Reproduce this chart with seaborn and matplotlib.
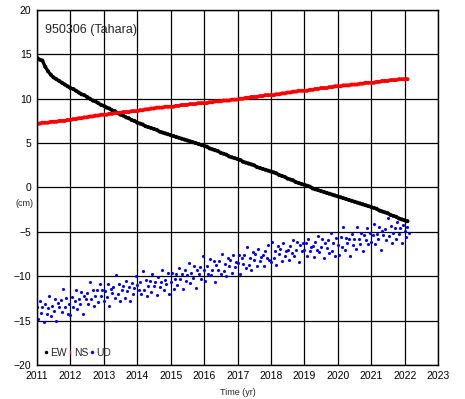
import matplotlib
matplotlib.use("Agg")
import matplotlib.pyplot as plt
import matplotlib.dates as mdates
from matplotlib.lines import Line2D
import numpy as np
import pandas as pd
import seaborn as sns

# Station 950306 (Tahara) daily coordinates (cm)
station = "950306 (Tahara)"

# EW / NS sampled monthly from Jan 2011 to Feb 2022
ew_cm = [
    14.6, 14.4, 14.3, 13.6, 13.1, 12.7, 12.4, 12.2, 12.0, 11.8, 11.6, 11.4,
    11.2, 11.1, 10.9, 10.7, 10.5, 10.4, 10.2, 10.0, 9.8, 9.7, 9.5, 9.3,
    9.2, 9.0, 8.9, 8.7, 8.6, 8.4, 8.2, 8.1, 7.9, 7.8, 7.6, 7.5,
    7.3, 7.2, 7.1, 6.9, 6.8, 6.7, 6.6, 6.5, 6.3, 6.2, 6.1, 6.0,
    5.9, 5.8, 5.7, 5.6, 5.5, 5.4, 5.3, 5.2, 5.1, 5.0, 4.9, 4.8,
    4.7, 4.6, 4.4, 4.3, 4.2, 4.1, 3.9, 3.8, 3.7, 3.5, 3.4, 3.3,
    3.2, 3.1, 2.9, 2.8, 2.7, 2.6, 2.5, 2.3, 2.2, 2.1, 2.0, 1.9,
    1.8, 1.7, 1.6, 1.4, 1.3, 1.2, 1.0, 0.9, 0.8, 0.6, 0.5, 0.4,
    0.3, 0.2, 0.1, -0.1, -0.2, -0.3, -0.4, -0.5, -0.6, -0.7, -0.8, -0.9,
    -1.0, -1.1, -1.2, -1.3, -1.4, -1.5, -1.6, -1.7, -1.8, -1.9, -2.0, -2.1,
    -2.2, -2.3, -2.4, -2.6, -2.7, -2.8, -2.9, -3.1, -3.2, -3.3, -3.5, -3.6,
    -3.7, -3.8,
]
ns_cm = [
    7.2, 7.2, 7.3, 7.3, 7.3, 7.4, 7.4, 7.4, 7.5, 7.5, 7.5, 7.6,
    7.6, 7.7, 7.7, 7.8, 7.8, 7.9, 7.9, 8.0, 8.0, 8.1, 8.1, 8.2,
    8.2, 8.2, 8.3, 8.3, 8.4, 8.4, 8.4, 8.5, 8.5, 8.5, 8.6, 8.6,
    8.6, 8.7, 8.7, 8.8, 8.8, 8.9, 8.9, 9.0, 9.0, 9.0, 9.1, 9.1,
    9.1, 9.1, 9.2, 9.2, 9.3, 9.3, 9.3, 9.4, 9.4, 9.4, 9.5, 9.5,
    9.5, 9.5, 9.6, 9.6, 9.7, 9.7, 9.7, 9.8, 9.8, 9.8, 9.9, 9.9,
    9.9, 10.0, 10.0, 10.1, 10.1, 10.2, 10.2, 10.2, 10.3, 10.3, 10.4, 10.4,
    10.4, 10.4, 10.5, 10.5, 10.6, 10.6, 10.7, 10.7, 10.8, 10.8, 10.9, 10.9,
    10.9, 10.9, 11.0, 11.0, 11.1, 11.1, 11.2, 11.2, 11.2, 11.3, 11.3, 11.4,
    11.4, 11.4, 11.5, 11.5, 11.5, 11.6, 11.6, 11.6, 11.7, 11.7, 11.8, 11.8,
    11.8, 11.8, 11.9, 11.9, 12.0, 12.0, 12.0, 12.1, 12.1, 12.1, 12.2, 12.2,
    12.2, 12.2,
]

# UD is noisier, sampled twice a month
ud_cm = [
    -13.5, -14.8, -12.8, -14.1, -13.5, -15.1, -13.1, -14.2, -13.6, -12.2, -14.5, -13.4,
    -13.9, -12.6, -15.0, -13.0, -13.5, -12.7, -14.0, -11.4, -13.5, -12.4, -14.2, -13.1,
    -14.4, -12.3, -13.5, -12.8, -11.5, -13.7, -12.6, -13.1, -11.8, -14.2, -12.2, -12.6,
    -11.9, -13.1, -10.6, -12.6, -11.5, -13.3, -12.2, -11.6, -12.9, -10.9, -12.2, -11.6,
    -12.8, -11.7, -12.3, -10.9, -13.4, -11.4, -11.9, -11.2, -12.4, -9.9, -12.0, -10.9,
    -12.8, -11.6, -11.1, -12.4, -10.5, -11.7, -11.2, -12.8, -10.8, -12.0, -11.3, -10.0,
    -11.0, -11.5, -10.7, -12.0, -9.4, -11.5, -10.4, -12.2, -11.1, -10.5, -11.8, -9.8,
    -11.1, -10.6, -12.1, -10.1, -11.2, -10.6, -9.3, -11.5, -10.4, -10.9, -9.6, -12.0,
    -10.7, -9.6, -11.4, -10.3, -9.8, -11.0, -9.1, -10.3, -9.8, -11.4, -9.3, -10.5,
    -9.9, -8.5, -10.8, -9.6, -10.2, -8.9, -11.3, -9.3, -9.8, -9.0, -10.3, -7.7,
    -9.3, -10.5, -8.8, -9.7, -8.1, -9.9, -9.3, -8.3, -10.6, -8.7, -9.3, -8.3,
    -9.8, -7.5, -9.4, -8.6, -10.0, -8.0, -8.9, -8.2, -9.6, -7.6, -9.0, -8.4,
    -8.5, -7.6, -9.8, -8.0, -8.6, -7.6, -9.1, -6.7, -8.7, -7.9, -9.3, -7.3,
    -8.2, -7.5, -8.9, -6.9, -8.3, -7.8, -7.6, -8.8, -7.2, -8.0, -6.5, -8.2,
    -8.4, -6.1, -8.0, -7.2, -8.7, -6.6, -7.5, -6.9, -8.3, -6.3, -7.7, -7.2,
    -7.0, -8.2, -6.6, -7.4, -5.9, -7.7, -7.0, -6.1, -8.4, -6.5, -7.1, -6.2,
    -7.0, -6.3, -7.7, -5.8, -7.2, -6.7, -6.6, -7.8, -6.1, -7.0, -5.5, -7.3,
    -6.7, -5.8, -8.0, -6.2, -6.8, -5.9, -7.4, -5.1, -7.1, -6.2, -7.7, -5.7,
    -6.5, -7.6, -5.6, -6.7, -4.5, -7.0, -5.7, -6.3, -5.8, -7.7, -5.2, -6.5,
    -5.8, -6.9, -4.5, -5.8, -6.4, -5.1, -7.1, -5.4, -5.9, -4.6, -6.4, -5.1,
    -6.1, -5.4, -4.1, -6.4, -5.2, -5.8, -4.5, -7.0, -4.9, -5.4, -4.7, -5.9,
    -3.4, -5.5, -4.3, -6.2, -5.1, -4.6, -5.8, -3.9, -5.2, -4.6, -6.2, -4.2,
    -4.9, -5.6, -4.4, -5.1,
]

components = ["EW", "NS", "UD"]
colors = {"EW": "black", "NS": "red", "UD": "blue"}

monthly = pd.date_range("2011-01-01", periods=len(ew_cm), freq="MS")
semimonthly = pd.date_range("2011-01-01", periods=len(ud_cm), freq="SMS")

horiz = pd.concat([
    pd.DataFrame({"date": monthly, "disp": ew_cm, "comp": "EW"}),
    pd.DataFrame({"date": monthly, "disp": ns_cm, "comp": "NS"}),
], ignore_index=True)
vert = pd.DataFrame({"date": semimonthly, "disp": ud_cm, "comp": "UD"})

sns.set_style("white")
plt.rcParams["font.family"] = ["Liberation Sans", "DejaVu Sans"]

fig = plt.figure(figsize=(4.65, 3.99), dpi=100)
ax = fig.add_axes([0.0796, 0.0852, 0.8624, 0.8898])

# horizontal components: dense daily band -> thick trace plus points
sns.lineplot(data=horiz, x="date", y="disp", hue="comp", hue_order=["EW", "NS"],
             palette=colors, linewidth=2.4, ax=ax, legend=False)
sns.scatterplot(data=horiz, x="date", y="disp", hue="comp", hue_order=["EW", "NS"],
                palette=colors, s=8, linewidth=0, ax=ax, legend=False)
sns.scatterplot(data=vert, x="date", y="disp", color="blue", s=5,
                linewidth=0, ax=ax, legend=False)

ax.set_xlim(pd.Timestamp("2011-01-01"), pd.Timestamp("2023-01-01"))
ax.set_ylim(-20, 20)
ax.xaxis.set_major_locator(mdates.YearLocator(1))
ax.xaxis.set_major_formatter(mdates.DateFormatter("%Y"))
ax.set_yticks(np.arange(-20, 21, 5))
ax.grid(True, color="black", linewidth=0.9)
ax.set_axisbelow(True)
for sp in ax.spines.values():
    sp.set_visible(True)
    sp.set_color("black")
    sp.set_linewidth(1.0)
ax.tick_params(direction="out", length=3, width=0.8, colors="black",
               labelsize=7.5, pad=1)
ax.set_yticklabels([f"{v:d}".replace("-", "\u2212") for v in range(-20, 21, 5)])

ax.set_xlabel("Time (yr)", fontsize=6.5, labelpad=5)
ax.set_ylabel("")
ax.text(-0.03, 0.455, "(cm)", transform=ax.transAxes, fontsize=6.5,
        ha="center", va="center")
ax.text(0.02, 0.945, station, transform=ax.transAxes, fontsize=9,
        ha="left", va="center")

# legend with tiny markers like the original
handles = [
    Line2D([], [], marker="o", linestyle="none", markersize=2.5,
           color=colors["EW"], markeredgewidth=0),
    Line2D([], [], marker="|", linestyle="none", markersize=3.5,
           color=colors["NS"], markeredgewidth=0.8),
    Line2D([], [], marker="o", linestyle="none", markersize=2.5,
           color=colors["UD"], markeredgewidth=0),
]
ax.legend(handles, components, loc="lower left", ncol=3, frameon=False,
          fontsize=7.5, handlelength=0.4, handletextpad=0.2, columnspacing=0.1,
          borderaxespad=0.3, bbox_to_anchor=(0.0, 0.0))

fig.savefig("out.png", dpi=100)
